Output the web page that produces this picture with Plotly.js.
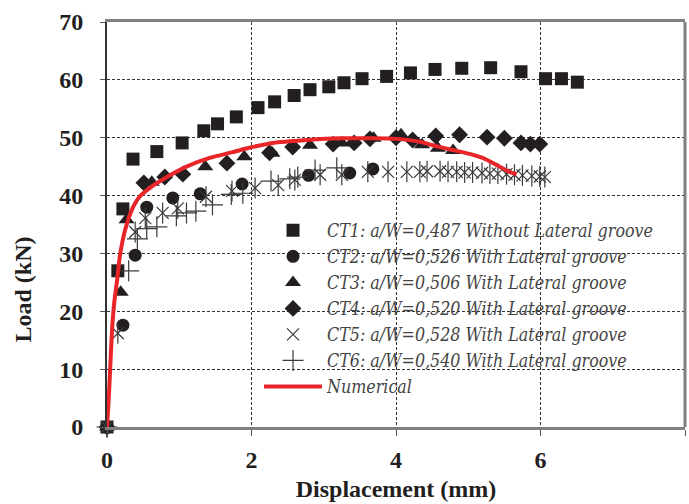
<!DOCTYPE html>
<html>
<head>
<meta charset="utf-8">
<script src="https://cdn.plot.ly/plotly-3.0.1.min.js"></script>
<style>html,body{margin:0;padding:0;background:#fff;}#chart{width:689px;height:504px;}</style>
</head>
<body>
<div id="chart"></div>
<script>
// Data
const ct1X = [0,0.15,0.22,0.36,0.69,1.04,1.34,1.53,1.79,2.09,2.32,2.59,2.81,3.07,3.28,3.53,3.87,4.2,4.54,4.91,5.31,5.73,6.07,6.29,6.51];
const ct1Y = [0,27,37.7,46.3,47.6,49.1,51.2,52.4,53.6,55.2,56.2,57.3,58.3,58.8,59.5,60.2,60.6,61.2,61.8,62.0,62.1,61.4,60.2,60.2,59.6];

const ct2X = [0,0.22,0.39,0.55,0.91,1.29,1.87,2.79,3.36,3.68];
const ct2Y = [0,17.6,29.7,38.0,39.6,40.3,42.0,43.5,43.9,44.6];

const ct3X = [0,0.19,0.27,0.62,1.36,1.9,2.29,2.81,3.25,3.69,4.07,4.36,4.58,4.79];
const ct3Y = [0,23.3,35.8,42.3,45.0,46.7,47.3,48.7,49.1,49.9,50.5,48.8,48.2,47.8];

const ct4X = [0,0.51,0.8,1.05,1.66,2.25,2.57,3.13,3.42,3.64,4.0,4.23,4.55,4.88,5.26,5.5,5.73,5.86,5.99];
const ct4Y = [0,42.2,43.2,43.7,45.6,47.4,48.4,48.9,49.1,49.8,50.0,49.6,50.3,50.5,50.1,49.9,49.1,48.9,48.9];

const ct5X = [0,0.15,0.39,0.53,0.77,0.98,1.37,1.73,2.05,2.37,2.6,2.95,3.25,3.61,3.89,4.15,4.33,4.43,4.61,4.72,4.84,4.95,5.06,5.19,5.30,5.41,5.53,5.64,5.75,5.88,5.99,6.06];
const ct5Y = [0,16.2,33.7,36.1,37.0,37.8,39.8,40.8,41.3,41.8,42.7,43.6,43.6,44.1,44.1,44.1,44.1,44.2,44.2,44.1,44.1,44.0,44.0,43.9,43.8,43.8,43.7,43.6,43.5,43.4,43.3,43.2];

const ct6X = [0,0.3,0.42,0.55,0.69,0.96,1.1,1.23,1.46,1.72,1.88,2.27,2.53,2.64,2.88,3.18];
const ct6Y = [0,27.0,32.5,34.3,34.6,36.5,37.0,37.3,38.4,40.2,40.4,42.5,42.9,43.2,44.4,44.8];

const numX = [0,0.02,0.04,0.07,0.1,0.14,0.18,0.25,0.36,0.45,0.59,0.83,1.1,1.42,1.74,1.98,2.3,2.77,3.22,3.68,4.01,4.33,4.51,4.74,5.02,5.2,5.39,5.57,5.67];
const numY = [0,4,9,16.8,21.5,25.4,29.7,34,38,39.8,41.3,43.2,45.0,46.5,47.5,48.3,49.1,49.6,49.9,49.9,49.8,49.3,48.7,48.0,47.2,46.5,45.3,44.1,43.7];

const names = [
  "CT1: a/W=0,487 Without Lateral groove",
  "CT2: a/W=0,526 With Lateral groove",
  "CT3: a/W=0,506 With Lateral groove",
  "CT4: a/W=0,520 With Lateral groove",
  "CT5: a/W=0,528 With Lateral groove",
  "CT6: a/W=0,540 With Lateral groove",
  "Numerical"
];

const black = '#231f20';
const gray = '#3a3a3a';

const traces = [
  {x: ct1X, y: ct1Y, name: names[0], mode: 'markers', type: 'scatter', cliponaxis: false,
   marker: {symbol: 'square', size: 13, color: black}},
  {x: ct2X, y: ct2Y, name: names[1], mode: 'markers', type: 'scatter', cliponaxis: false,
   marker: {symbol: 'circle', size: 13, color: black}},
  {x: ct3X, y: ct3Y, name: names[2], mode: 'markers', type: 'scatter', cliponaxis: false,
   marker: {symbol: 'triangle-up', size: 14, color: black}},
  {x: ct4X, y: ct4Y, name: names[3], mode: 'markers', type: 'scatter', cliponaxis: false,
   marker: {symbol: 'diamond', size: 13, color: black}},
  {x: ct5X, y: ct5Y, name: names[4], mode: 'markers', type: 'scatter', cliponaxis: false,
   marker: {symbol: 'x-thin-open', size: 12, color: gray, line: {color: gray, width: 1.2}}},
  {x: ct5X, y: ct5Y, name: names[4], mode: 'markers', type: 'scatter', cliponaxis: false, showlegend: false,
   marker: {symbol: 'line-ns-open', size: 15, color: gray, line: {color: gray, width: 1.2}}},
  {x: ct6X, y: ct6Y, name: names[5], mode: 'markers', type: 'scatter', cliponaxis: false,
   marker: {symbol: 'cross-thin-open', size: 15, color: gray, line: {color: gray, width: 1.2}}},
  {x: numX, y: numY, name: names[6], mode: 'lines', type: 'scatter', cliponaxis: false,
   line: {color: '#e8262a', width: 4, shape: 'spline', smoothing: 0.6}}
];

const tickFont = {family: 'Liberation Serif, Times New Roman, serif', size: 24, color: '#231f20', weight: 'bold'};

const layout = {
  width: 689, height: 504,
  margin: {l: 107, r: 4, t: 22, b: 77},
  paper_bgcolor: '#ffffff', plot_bgcolor: '#ffffff',
  showlegend: true,
  legend: {
    x: 0.263, y: 0.53, xanchor: 'left', yanchor: 'top',
    bgcolor: 'rgba(0,0,0,0)', borderwidth: 0,
    font: {family: 'DejaVu Serif Condensed, DejaVu Serif, Liberation Serif, serif', size: 17.7, color: '#444', style: 'italic'},
    itemwidth: 58, tracegroupgap: 0
  },
  xaxis: {
    range: [0, 8], dtick: 2, tick0: 0, autorange: false,
    showgrid: true, gridcolor: '#333', griddash: '3px,2px', gridwidth: 1,
    zeroline: false,
    showline: true, linecolor: '#808080', linewidth: 3, mirror: true,
    ticks: 'outside', ticklen: 6, tickcolor: '#555', tickwidth: 1,
    tickfont: tickFont, ticklabelstandoff: 3,
    title: {text: 'Displacement (mm)', font: tickFont, standoff: 9}
  },
  yaxis: {
    range: [0, 70], dtick: 10, tick0: 0, autorange: false,
    showgrid: true, gridcolor: '#333', griddash: '3px,2px', gridwidth: 1,
    zeroline: false,
    showline: true, linecolor: '#333', linewidth: 2, mirror: false,
    ticks: 'outside', ticklen: 5, tickcolor: '#555', tickwidth: 1,
    tickfont: tickFont, ticklabelstandoff: 12
  },
  shapes: [
    {type: 'line', xref: 'paper', yref: 'paper', x0: 1, x1: 1, y0: 0, y1: 1,
     line: {color: '#808080', width: 3}}
  ],
  annotations: [
    {text: 'Load (kN)', textangle: -90, xref: 'paper', yref: 'paper', x: -0.145, y: 0.34,
     xanchor: 'center', yanchor: 'middle', showarrow: false, font: tickFont}
  ]
};

Plotly.newPlot('chart', traces, layout, {displayModeBar: false, staticPlot: true});
</script>
</body>
</html>
